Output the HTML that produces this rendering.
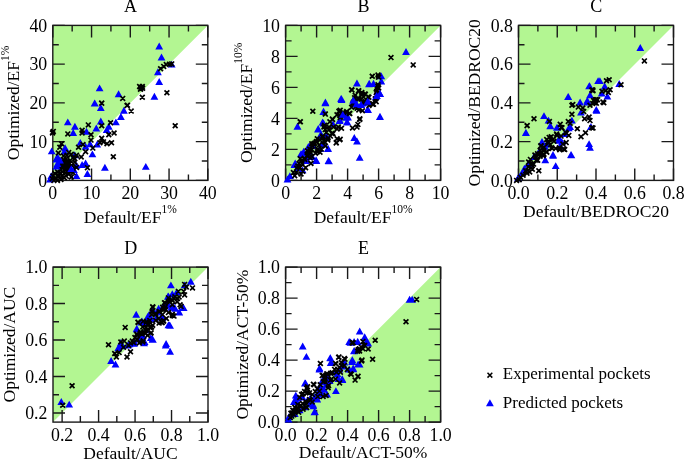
<!DOCTYPE html>
<html><head><meta charset="utf-8"><style>
html,body{margin:0;padding:0;background:#fff;}
svg{display:block;will-change:transform;}
text{font-family:"Liberation Serif", serif;font-size:17.5px;fill:#000;}
</style></head><body>
<svg width="685" height="460" viewBox="0 0 685 460">

<polygon points="52.8,180.4 52.8,25.4 207.8,25.4" fill="#b3f692"/>
<path d="M52.80,180.4v-12M52.80,25.4v12M52.8,180.40h12M207.8,180.40h-12M91.55,180.4v-12M91.55,25.4v12M52.8,141.65h12M207.8,141.65h-12M130.30,180.4v-12M130.30,25.4v12M52.8,102.90h12M207.8,102.90h-12M169.05,180.4v-12M169.05,25.4v12M52.8,64.15h12M207.8,64.15h-12M207.80,180.4v-12M207.80,25.4v12M52.8,25.40h12M207.8,25.40h-12M72.17,180.4v-6M72.17,25.4v6M52.8,161.03h6M207.8,161.03h-6M110.92,180.4v-6M110.92,25.4v6M52.8,122.28h6M207.8,122.28h-6M149.68,180.4v-6M149.68,25.4v6M52.8,83.53h6M207.8,83.53h-6M188.43,180.4v-6M188.43,25.4v6M52.8,44.78h6M207.8,44.78h-6" stroke="#1a1a1a" stroke-width="1.4" fill="none"/>
<rect x="52.8" y="25.4" width="155.0" height="155.0" stroke="#1a1a1a" stroke-width="1.4" fill="none"/>
<path d="M99.6,84.4l3.9,6.9h-7.8zM118.6,90.3l3.9,6.9h-7.8zM94.6,99.5l3.9,6.9h-7.8zM159.2,42.5l3.9,6.9h-7.8zM161.5,53.5l3.9,6.9h-7.8zM171.7,60.7l3.9,6.9h-7.8zM157.9,68.3l3.9,6.9h-7.8zM159.2,78.1l3.9,6.9h-7.8zM154.4,92.8l3.9,6.9h-7.8zM94.9,99.7l3.9,6.9h-7.8zM100.8,104.1l3.9,6.9h-7.8zM67.8,118.4l3.9,6.9h-7.8zM74.9,122.8l3.9,6.9h-7.8zM73.2,129.1l3.9,6.9h-7.8zM86.5,127.8l3.9,6.9h-7.8zM96.3,124.6l3.9,6.9h-7.8zM100.8,117.5l3.9,6.9h-7.8zM106.7,126.0l3.9,6.9h-7.8zM108.8,122.8l3.9,6.9h-7.8zM115.9,118.4l3.9,6.9h-7.8zM120.9,113.0l3.9,6.9h-7.8zM123.9,106.8l3.9,6.9h-7.8zM80.3,138.9l3.9,6.9h-7.8zM85.6,142.8l3.9,6.9h-7.8zM90.1,140.3l3.9,6.9h-7.8zM97.2,140.6l3.9,6.9h-7.8zM92.4,150.4l3.9,6.9h-7.8zM104.9,163.8l3.9,6.9h-7.8zM87.4,170.0l3.9,6.9h-7.8zM82.1,161.1l3.9,6.9h-7.8zM85.6,159.4l3.9,6.9h-7.8zM65.1,144.2l3.9,6.9h-7.8zM145.8,162.9l3.9,6.9h-7.8zM51.7,147.4l3.9,6.9h-7.8zM57.4,153.1l3.9,6.9h-7.8zM56.5,155.7l3.9,6.9h-7.8zM59.1,159.1l3.9,6.9h-7.8zM57.4,161.8l3.9,6.9h-7.8zM60.9,157.4l3.9,6.9h-7.8zM70.4,164.4l3.9,6.9h-7.8zM73.9,166.1l3.9,6.9h-7.8zM76.5,172.2l3.9,6.9h-7.8zM50.0,175.7l3.9,6.9h-7.8zM51.3,172.2l3.9,6.9h-7.8zM64.3,147.8l3.9,6.9h-7.8zM74.8,151.3l3.9,6.9h-7.8zM76.5,161.8l3.9,6.9h-7.8z" fill="#0000ff"/>
<path d="M120.3,96.0l4.8,4.8m0,-4.8l-4.8,4.8M99.3,100.7l4.8,4.8m0,-4.8l-4.8,4.8M124.6,103.2l4.8,4.8m0,-4.8l-4.8,4.8M158.2,66.3l4.8,4.8m0,-4.8l-4.8,4.8M161.3,64.0l4.8,4.8m0,-4.8l-4.8,4.8M163.9,62.2l4.8,4.8m0,-4.8l-4.8,4.8M167.0,61.8l4.8,4.8m0,-4.8l-4.8,4.8M169.3,61.5l4.8,4.8m0,-4.8l-4.8,4.8M164.5,90.3l4.8,4.8m0,-4.8l-4.8,4.8M139.9,94.8l4.8,4.8m0,-4.8l-4.8,4.8M137.2,84.1l4.8,4.8m0,-4.8l-4.8,4.8M139.9,84.1l4.8,4.8m0,-4.8l-4.8,4.8M138.4,85.9l4.8,4.8m0,-4.8l-4.8,4.8M138.1,86.8l4.8,4.8m0,-4.8l-4.8,4.8M140.2,85.9l4.8,4.8m0,-4.8l-4.8,4.8M99.3,100.8l4.8,4.8m0,-4.8l-4.8,4.8M125.1,102.9l4.8,4.8m0,-4.8l-4.8,4.8M85.9,122.5l4.8,4.8m0,-4.8l-4.8,4.8M79.7,127.9l4.8,4.8m0,-4.8l-4.8,4.8M79.7,130.6l4.8,4.8m0,-4.8l-4.8,4.8M65.4,131.5l4.8,4.8m0,-4.8l-4.8,4.8M88.6,132.3l4.8,4.8m0,-4.8l-4.8,4.8M99.3,123.4l4.8,4.8m0,-4.8l-4.8,4.8M108.2,120.4l4.8,4.8m0,-4.8l-4.8,4.8M50.3,129.7l4.8,4.8m0,-4.8l-4.8,4.8M111.7,130.6l4.8,4.8m0,-4.8l-4.8,4.8M106.4,132.3l4.8,4.8m0,-4.8l-4.8,4.8M99.3,135.9l4.8,4.8m0,-4.8l-4.8,4.8M101.1,139.5l4.8,4.8m0,-4.8l-4.8,4.8M104.6,141.3l4.8,4.8m0,-4.8l-4.8,4.8M109.1,140.4l4.8,4.8m0,-4.8l-4.8,4.8M97.5,140.4l4.8,4.8m0,-4.8l-4.8,4.8M88.6,137.7l4.8,4.8m0,-4.8l-4.8,4.8M80.6,142.1l4.8,4.8m0,-4.8l-4.8,4.8M76.1,144.8l4.8,4.8m0,-4.8l-4.8,4.8M83.2,149.3l4.8,4.8m0,-4.8l-4.8,4.8M90.4,145.7l4.8,4.8m0,-4.8l-4.8,4.8M78.8,154.6l4.8,4.8m0,-4.8l-4.8,4.8M110.9,154.3l4.8,4.8m0,-4.8l-4.8,4.8M85.0,165.3l4.8,4.8m0,-4.8l-4.8,4.8M59.2,141.3l4.8,4.8m0,-4.8l-4.8,4.8M57.4,144.8l4.8,4.8m0,-4.8l-4.8,4.8M128.8,108.7l4.8,4.8m0,-4.8l-4.8,4.8M172.8,123.4l4.8,4.8m0,-4.8l-4.8,4.8M55.9,150.6l4.8,4.8m0,-4.8l-4.8,4.8M61.1,153.7l4.8,4.8m0,-4.8l-4.8,4.8M63.7,156.3l4.8,4.8m0,-4.8l-4.8,4.8M61.9,159.8l4.8,4.8m0,-4.8l-4.8,4.8M60.2,163.3l4.8,4.8m0,-4.8l-4.8,4.8M63.7,165.0l4.8,4.8m0,-4.8l-4.8,4.8M65.4,161.5l4.8,4.8m0,-4.8l-4.8,4.8M68.0,158.0l4.8,4.8m0,-4.8l-4.8,4.8M70.6,155.4l4.8,4.8m0,-4.8l-4.8,4.8M68.9,151.9l4.8,4.8m0,-4.8l-4.8,4.8M66.3,150.2l4.8,4.8m0,-4.8l-4.8,4.8M72.4,159.8l4.8,4.8m0,-4.8l-4.8,4.8M74.1,165.0l4.8,4.8m0,-4.8l-4.8,4.8M58.5,167.6l4.8,4.8m0,-4.8l-4.8,4.8M55.0,169.3l4.8,4.8m0,-4.8l-4.8,4.8M52.4,171.1l4.8,4.8m0,-4.8l-4.8,4.8M50.6,173.7l4.8,4.8m0,-4.8l-4.8,4.8M53.3,175.4l4.8,4.8m0,-4.8l-4.8,4.8M56.7,173.7l4.8,4.8m0,-4.8l-4.8,4.8M60.2,172.8l4.8,4.8m0,-4.8l-4.8,4.8M62.8,170.2l4.8,4.8m0,-4.8l-4.8,4.8M66.3,171.9l4.8,4.8m0,-4.8l-4.8,4.8M68.9,174.6l4.8,4.8m0,-4.8l-4.8,4.8M55.0,178.0l4.8,4.8m0,-4.8l-4.8,4.8M51.5,178.0l4.8,4.8m0,-4.8l-4.8,4.8M49.8,176.3l4.8,4.8m0,-4.8l-4.8,4.8M58.5,177.2l4.8,4.8m0,-4.8l-4.8,4.8M61.9,175.4l4.8,4.8m0,-4.8l-4.8,4.8M65.4,168.5l4.8,4.8m0,-4.8l-4.8,4.8M57.6,171.1l4.8,4.8m0,-4.8l-4.8,4.8M61.1,157.2l4.8,4.8m0,-4.8l-4.8,4.8M64.6,158.9l4.8,4.8m0,-4.8l-4.8,4.8M67.2,161.5l4.8,4.8m0,-4.8l-4.8,4.8M69.8,163.3l4.8,4.8m0,-4.8l-4.8,4.8M66.3,165.0l4.8,4.8m0,-4.8l-4.8,4.8M62.8,167.6l4.8,4.8m0,-4.8l-4.8,4.8M60.2,169.3l4.8,4.8m0,-4.8l-4.8,4.8M68.0,168.5l4.8,4.8m0,-4.8l-4.8,4.8M70.6,170.2l4.8,4.8m0,-4.8l-4.8,4.8M63.7,173.7l4.8,4.8m0,-4.8l-4.8,4.8M72.4,156.3l4.8,4.8m0,-4.8l-4.8,4.8M74.1,152.8l4.8,4.8m0,-4.8l-4.8,4.8M59.3,165.0l4.8,4.8m0,-4.8l-4.8,4.8M61.9,163.3l4.8,4.8m0,-4.8l-4.8,4.8M64.6,152.8l4.8,4.8m0,-4.8l-4.8,4.8M50.9,129.0l4.8,4.8m0,-4.8l-4.8,4.8M50.1,130.6l4.8,4.8m0,-4.8l-4.8,4.8" stroke="#000" stroke-width="1.7" fill="none"/>
<path d="M57.4,160.0l3.9,6.9h-7.8zM60.0,156.5l3.9,6.9h-7.8zM56.5,162.6l3.9,6.9h-7.8zM71.3,165.2l3.9,6.9h-7.8z" fill="#0000ff"/>
<text transform="translate(52.80,199.30) scale(1,1.1)" text-anchor="middle" style="font-size:17.8px">0</text>
<text transform="translate(47.20,186.60) scale(1,1.1)" text-anchor="end" style="font-size:17.8px">0</text>
<text transform="translate(91.55,199.30) scale(1,1.1)" text-anchor="middle" style="font-size:17.8px">10</text>
<text transform="translate(47.20,147.85) scale(1,1.1)" text-anchor="end" style="font-size:17.8px">10</text>
<text transform="translate(130.30,199.30) scale(1,1.1)" text-anchor="middle" style="font-size:17.8px">20</text>
<text transform="translate(47.20,109.10) scale(1,1.1)" text-anchor="end" style="font-size:17.8px">20</text>
<text transform="translate(169.05,199.30) scale(1,1.1)" text-anchor="middle" style="font-size:17.8px">30</text>
<text transform="translate(47.20,70.35) scale(1,1.1)" text-anchor="end" style="font-size:17.8px">30</text>
<text transform="translate(207.80,199.30) scale(1,1.1)" text-anchor="middle" style="font-size:17.8px">40</text>
<text transform="translate(47.20,31.60) scale(1,1.1)" text-anchor="end" style="font-size:17.8px">40</text>
<text transform="translate(130.60,12.30) scale(1,1.0)" text-anchor="middle" style="font-size:18px">A</text>
<polygon points="285.6,180.4 285.6,25.4 440.6,25.4" fill="#b3f692"/>
<path d="M285.60,180.4v-12M285.60,25.4v12M285.6,180.40h12M440.6,180.40h-12M316.60,180.4v-12M316.60,25.4v12M285.6,149.40h12M440.6,149.40h-12M347.60,180.4v-12M347.60,25.4v12M285.6,118.40h12M440.6,118.40h-12M378.60,180.4v-12M378.60,25.4v12M285.6,87.40h12M440.6,87.40h-12M409.60,180.4v-12M409.60,25.4v12M285.6,56.40h12M440.6,56.40h-12M440.60,180.4v-12M440.60,25.4v12M285.6,25.40h12M440.6,25.40h-12M301.10,180.4v-6M301.10,25.4v6M285.6,164.90h6M440.6,164.90h-6M332.10,180.4v-6M332.10,25.4v6M285.6,133.90h6M440.6,133.90h-6M363.10,180.4v-6M363.10,25.4v6M285.6,102.90h6M440.6,102.90h-6M394.10,180.4v-6M394.10,25.4v6M285.6,71.90h6M440.6,71.90h-6M425.10,180.4v-6M425.10,25.4v6M285.6,40.90h6M440.6,40.90h-6" stroke="#1a1a1a" stroke-width="1.4" fill="none"/>
<rect x="285.6" y="25.4" width="155.0" height="155.0" stroke="#1a1a1a" stroke-width="1.4" fill="none"/>
<path d="M406.0,48.0l3.9,6.9h-7.8zM369.0,80.4l3.9,6.9h-7.8zM373.5,80.1l3.9,6.9h-7.8zM380.8,72.3l3.9,6.9h-7.8zM381.3,77.7l3.9,6.9h-7.8zM379.8,89.5l3.9,6.9h-7.8zM375.9,93.1l3.9,6.9h-7.8zM367.2,98.5l3.9,6.9h-7.8zM325.4,99.3l3.9,6.9h-7.8zM323.6,107.8l3.9,6.9h-7.8zM297.4,122.8l3.9,6.9h-7.8zM318.2,125.0l3.9,6.9h-7.8zM323.6,119.6l3.9,6.9h-7.8zM320.0,132.2l3.9,6.9h-7.8zM339.8,116.3l3.9,6.9h-7.8zM347.1,118.1l3.9,6.9h-7.8zM345.3,110.5l3.9,6.9h-7.8zM354.3,134.0l3.9,6.9h-7.8zM357.0,137.6l3.9,6.9h-7.8zM359.7,153.8l3.9,6.9h-7.8zM329.0,157.4l3.9,6.9h-7.8zM316.4,157.1l3.9,6.9h-7.8zM328.1,144.8l3.9,6.9h-7.8zM303.8,148.4l3.9,6.9h-7.8zM294.7,161.1l3.9,6.9h-7.8zM308.3,143.0l3.9,6.9h-7.8zM301.0,150.2l3.9,6.9h-7.8zM287.5,175.5l3.9,6.9h-7.8zM306.5,155.6l3.9,6.9h-7.8zM321.8,140.3l3.9,6.9h-7.8zM353.4,98.8l3.9,6.9h-7.8zM362.4,99.7l3.9,6.9h-7.8zM341.6,96.1l3.9,6.9h-7.8zM357.0,79.5l3.9,6.9h-7.8zM341.1,94.9l3.9,6.9h-7.8zM325.4,98.5l3.9,6.9h-7.8zM354.3,94.9l3.9,6.9h-7.8zM355.2,99.4l3.9,6.9h-7.8zM379.8,113.2l3.9,6.9h-7.8zM368.1,106.0l3.9,6.9h-7.8zM363.6,98.8l3.9,6.9h-7.8zM367.2,97.9l3.9,6.9h-7.8zM356.9,79.6l3.9,6.9h-7.8zM369.2,79.8l3.9,6.9h-7.8zM373.5,79.8l3.9,6.9h-7.8zM381.3,72.4l3.9,6.9h-7.8zM381.3,77.6l3.9,6.9h-7.8zM380.0,90.0l3.9,6.9h-7.8zM376.7,92.0l3.9,6.9h-7.8zM341.5,95.2l3.9,6.9h-7.8zM368.3,97.8l3.9,6.9h-7.8zM353.3,96.5l3.9,6.9h-7.8zM356.5,100.4l3.9,6.9h-7.8zM367.6,105.7l3.9,6.9h-7.8zM380.0,112.8l3.9,6.9h-7.8zM342.8,110.9l3.9,6.9h-7.8zM348.0,113.5l3.9,6.9h-7.8zM361.1,101.1l3.9,6.9h-7.8zM355.9,93.9l3.9,6.9h-7.8zM323.3,108.1l3.9,6.9h-7.8zM297.6,122.8l3.9,6.9h-7.8zM322.6,118.5l3.9,6.9h-7.8zM318.0,125.7l3.9,6.9h-7.8zM321.3,130.9l3.9,6.9h-7.8zM333.0,120.4l3.9,6.9h-7.8zM339.6,117.2l3.9,6.9h-7.8zM346.1,113.9l3.9,6.9h-7.8zM347.4,118.5l3.9,6.9h-7.8zM303.7,147.8l3.9,6.9h-7.8zM301.7,151.1l3.9,6.9h-7.8zM295.2,159.6l3.9,6.9h-7.8zM316.1,156.3l3.9,6.9h-7.8zM328.5,157.0l3.9,6.9h-7.8zM327.8,145.2l3.9,6.9h-7.8zM309.6,142.6l3.9,6.9h-7.8zM312.2,153.1l3.9,6.9h-7.8zM305.7,155.7l3.9,6.9h-7.8zM320.0,145.2l3.9,6.9h-7.8zM326.5,132.2l3.9,6.9h-7.8zM303.7,149.1l3.9,6.9h-7.8zM306.0,157.2l3.9,6.9h-7.8zM298.0,164.1l3.9,6.9h-7.8zM294.5,160.7l3.9,6.9h-7.8zM313.0,142.2l3.9,6.9h-7.8zM319.9,133.0l3.9,6.9h-7.8zM323.3,139.9l3.9,6.9h-7.8zM309.5,151.4l3.9,6.9h-7.8zM289.9,172.2l3.9,6.9h-7.8zM302.6,166.4l3.9,6.9h-7.8z" fill="#0000ff"/>
<path d="M388.6,55.2l4.8,4.8m0,-4.8l-4.8,4.8M410.8,62.5l4.8,4.8m0,-4.8l-4.8,4.8M369.9,73.8l4.8,4.8m0,-4.8l-4.8,4.8M375.6,72.6l4.8,4.8m0,-4.8l-4.8,4.8M376.0,74.7l4.8,4.8m0,-4.8l-4.8,4.8M375.6,83.8l4.8,4.8m0,-4.8l-4.8,4.8M374.7,87.4l4.8,4.8m0,-4.8l-4.8,4.8M373.8,90.1l4.8,4.8m0,-4.8l-4.8,4.8M372.9,96.4l4.8,4.8m0,-4.8l-4.8,4.8M363.0,91.9l4.8,4.8m0,-4.8l-4.8,4.8M361.2,94.6l4.8,4.8m0,-4.8l-4.8,4.8M359.4,90.1l4.8,4.8m0,-4.8l-4.8,4.8M365.7,94.6l4.8,4.8m0,-4.8l-4.8,4.8M362.1,100.0l4.8,4.8m0,-4.8l-4.8,4.8M370.2,101.8l4.8,4.8m0,-4.8l-4.8,4.8M310.4,108.8l4.8,4.8m0,-4.8l-4.8,4.8M297.7,119.3l4.8,4.8m0,-4.8l-4.8,4.8M323.0,111.7l4.8,4.8m0,-4.8l-4.8,4.8M330.2,117.1l4.8,4.8m0,-4.8l-4.8,4.8M336.5,108.8l4.8,4.8m0,-4.8l-4.8,4.8M338.3,113.8l4.8,4.8m0,-4.8l-4.8,4.8M343.8,110.2l4.8,4.8m0,-4.8l-4.8,4.8M347.4,111.1l4.8,4.8m0,-4.8l-4.8,4.8M322.1,122.9l4.8,4.8m0,-4.8l-4.8,4.8M326.6,124.7l4.8,4.8m0,-4.8l-4.8,4.8M331.1,124.7l4.8,4.8m0,-4.8l-4.8,4.8M334.7,126.5l4.8,4.8m0,-4.8l-4.8,4.8M329.3,131.0l4.8,4.8m0,-4.8l-4.8,4.8M323.9,130.1l4.8,4.8m0,-4.8l-4.8,4.8M320.3,133.7l4.8,4.8m0,-4.8l-4.8,4.8M325.7,135.5l4.8,4.8m0,-4.8l-4.8,4.8M334.7,136.4l4.8,4.8m0,-4.8l-4.8,4.8M337.4,137.3l4.8,4.8m0,-4.8l-4.8,4.8M333.8,140.5l4.8,4.8m0,-4.8l-4.8,4.8M322.1,139.1l4.8,4.8m0,-4.8l-4.8,4.8M316.7,142.7l4.8,4.8m0,-4.8l-4.8,4.8M312.2,140.9l4.8,4.8m0,-4.8l-4.8,4.8M309.5,147.2l4.8,4.8m0,-4.8l-4.8,4.8M305.9,150.8l4.8,4.8m0,-4.8l-4.8,4.8M313.1,150.8l4.8,4.8m0,-4.8l-4.8,4.8M317.6,149.9l4.8,4.8m0,-4.8l-4.8,4.8M307.7,155.3l4.8,4.8m0,-4.8l-4.8,4.8M308.6,160.8l4.8,4.8m0,-4.8l-4.8,4.8M302.3,157.1l4.8,4.8m0,-4.8l-4.8,4.8M299.5,160.8l4.8,4.8m0,-4.8l-4.8,4.8M296.8,164.4l4.8,4.8m0,-4.8l-4.8,4.8M300.4,168.9l4.8,4.8m0,-4.8l-4.8,4.8M294.1,169.8l4.8,4.8m0,-4.8l-4.8,4.8M292.3,173.4l4.8,4.8m0,-4.8l-4.8,4.8M298.6,171.6l4.8,4.8m0,-4.8l-4.8,4.8M303.2,165.3l4.8,4.8m0,-4.8l-4.8,4.8M350.1,125.6l4.8,4.8m0,-4.8l-4.8,4.8M354.6,124.7l4.8,4.8m0,-4.8l-4.8,4.8M355.5,122.0l4.8,4.8m0,-4.8l-4.8,4.8M357.3,117.1l4.8,4.8m0,-4.8l-4.8,4.8M352.8,104.8l4.8,4.8m0,-4.8l-4.8,4.8M356.4,107.5l4.8,4.8m0,-4.8l-4.8,4.8M360.0,108.4l4.8,4.8m0,-4.8l-4.8,4.8M349.2,104.8l4.8,4.8m0,-4.8l-4.8,4.8M327.5,119.3l4.8,4.8m0,-4.8l-4.8,4.8M314.9,136.4l4.8,4.8m0,-4.8l-4.8,4.8M323.0,143.6l4.8,4.8m0,-4.8l-4.8,4.8M349.2,87.4l4.8,4.8m0,-4.8l-4.8,4.8M356.4,88.3l4.8,4.8m0,-4.8l-4.8,4.8M360.0,91.9l4.8,4.8m0,-4.8l-4.8,4.8M352.8,92.8l4.8,4.8m0,-4.8l-4.8,4.8M356.4,96.4l4.8,4.8m0,-4.8l-4.8,4.8M360.9,100.0l4.8,4.8m0,-4.8l-4.8,4.8M351.0,100.0l4.8,4.8m0,-4.8l-4.8,4.8M366.6,103.0l4.8,4.8m0,-4.8l-4.8,4.8M370.2,101.2l4.8,4.8m0,-4.8l-4.8,4.8M373.8,99.4l4.8,4.8m0,-4.8l-4.8,4.8M363.0,99.4l4.8,4.8m0,-4.8l-4.8,4.8M369.8,73.9l4.8,4.8m0,-4.8l-4.8,4.8M375.6,72.6l4.8,4.8m0,-4.8l-4.8,4.8M376.3,74.6l4.8,4.8m0,-4.8l-4.8,4.8M375.6,82.4l4.8,4.8m0,-4.8l-4.8,4.8M376.3,85.6l4.8,4.8m0,-4.8l-4.8,4.8M374.3,88.9l4.8,4.8m0,-4.8l-4.8,4.8M373.0,96.7l4.8,4.8m0,-4.8l-4.8,4.8M371.1,101.9l4.8,4.8m0,-4.8l-4.8,4.8M349.6,87.6l4.8,4.8m0,-4.8l-4.8,4.8M356.1,88.3l4.8,4.8m0,-4.8l-4.8,4.8M358.7,92.2l4.8,4.8m0,-4.8l-4.8,4.8M362.6,91.5l4.8,4.8m0,-4.8l-4.8,4.8M366.5,94.8l4.8,4.8m0,-4.8l-4.8,4.8M352.2,95.4l4.8,4.8m0,-4.8l-4.8,4.8M356.1,96.7l4.8,4.8m0,-4.8l-4.8,4.8M358.7,96.7l4.8,4.8m0,-4.8l-4.8,4.8M361.3,99.3l4.8,4.8m0,-4.8l-4.8,4.8M350.9,100.6l4.8,4.8m0,-4.8l-4.8,4.8M354.8,105.9l4.8,4.8m0,-4.8l-4.8,4.8M356.7,107.2l4.8,4.8m0,-4.8l-4.8,4.8M337.8,107.8l4.8,4.8m0,-4.8l-4.8,4.8M344.3,109.1l4.8,4.8m0,-4.8l-4.8,4.8M346.9,111.1l4.8,4.8m0,-4.8l-4.8,4.8M334.6,112.4l4.8,4.8m0,-4.8l-4.8,4.8M337.8,115.0l4.8,4.8m0,-4.8l-4.8,4.8M357.4,116.3l4.8,4.8m0,-4.8l-4.8,4.8M310.4,108.9l4.8,4.8m0,-4.8l-4.8,4.8M322.8,111.5l4.8,4.8m0,-4.8l-4.8,4.8M298.0,119.3l4.8,4.8m0,-4.8l-4.8,4.8M330.0,116.7l4.8,4.8m0,-4.8l-4.8,4.8M337.2,112.8l4.8,4.8m0,-4.8l-4.8,4.8M341.1,110.2l4.8,4.8m0,-4.8l-4.8,4.8M335.9,124.6l4.8,4.8m0,-4.8l-4.8,4.8M339.1,125.9l4.8,4.8m0,-4.8l-4.8,4.8M337.8,136.9l4.8,4.8m0,-4.8l-4.8,4.8M333.9,140.2l4.8,4.8m0,-4.8l-4.8,4.8M321.5,124.6l4.8,4.8m0,-4.8l-4.8,4.8M322.8,127.2l4.8,4.8m0,-4.8l-4.8,4.8M326.7,127.2l4.8,4.8m0,-4.8l-4.8,4.8M330.6,131.1l4.8,4.8m0,-4.8l-4.8,4.8M320.2,135.0l4.8,4.8m0,-4.8l-4.8,4.8M317.6,137.6l4.8,4.8m0,-4.8l-4.8,4.8M313.7,139.6l4.8,4.8m0,-4.8l-4.8,4.8M311.1,141.5l4.8,4.8m0,-4.8l-4.8,4.8M309.8,143.5l4.8,4.8m0,-4.8l-4.8,4.8M307.2,146.7l4.8,4.8m0,-4.8l-4.8,4.8M305.9,149.3l4.8,4.8m0,-4.8l-4.8,4.8M308.5,150.6l4.8,4.8m0,-4.8l-4.8,4.8M304.6,153.3l4.8,4.8m0,-4.8l-4.8,4.8M301.9,155.9l4.8,4.8m0,-4.8l-4.8,4.8M299.3,158.5l4.8,4.8m0,-4.8l-4.8,4.8M296.7,161.1l4.8,4.8m0,-4.8l-4.8,4.8M295.4,163.7l4.8,4.8m0,-4.8l-4.8,4.8M298.0,165.0l4.8,4.8m0,-4.8l-4.8,4.8M308.5,161.1l4.8,4.8m0,-4.8l-4.8,4.8M315.0,149.3l4.8,4.8m0,-4.8l-4.8,4.8M318.9,146.7l4.8,4.8m0,-4.8l-4.8,4.8M322.8,140.2l4.8,4.8m0,-4.8l-4.8,4.8M325.4,137.6l4.8,4.8m0,-4.8l-4.8,4.8M328.0,133.7l4.8,4.8m0,-4.8l-4.8,4.8M309.4,141.4l4.8,4.8m0,-4.8l-4.8,4.8M314.0,139.1l4.8,4.8m0,-4.8l-4.8,4.8M304.8,148.3l4.8,4.8m0,-4.8l-4.8,4.8M297.9,156.4l4.8,4.8m0,-4.8l-4.8,4.8M294.4,165.6l4.8,4.8m0,-4.8l-4.8,4.8M291.0,170.2l4.8,4.8m0,-4.8l-4.8,4.8M315.2,147.2l4.8,4.8m0,-4.8l-4.8,4.8M309.4,154.1l4.8,4.8m0,-4.8l-4.8,4.8" stroke="#000" stroke-width="1.7" fill="none"/>
<path d="M353.3,96.5l3.9,6.9h-7.8zM356.5,100.4l3.9,6.9h-7.8zM367.6,97.8l3.9,6.9h-7.8zM376.7,92.0l3.9,6.9h-7.8zM380.0,90.0l3.9,6.9h-7.8zM361.1,101.1l3.9,6.9h-7.8zM342.8,110.9l3.9,6.9h-7.8z" fill="#0000ff"/>
<text transform="translate(285.60,199.30) scale(1,1.1)" text-anchor="middle" style="font-size:17.8px">0</text>
<text transform="translate(280.00,186.60) scale(1,1.1)" text-anchor="end" style="font-size:17.8px">0</text>
<text transform="translate(316.60,199.30) scale(1,1.1)" text-anchor="middle" style="font-size:17.8px">2</text>
<text transform="translate(280.00,155.60) scale(1,1.1)" text-anchor="end" style="font-size:17.8px">2</text>
<text transform="translate(347.60,199.30) scale(1,1.1)" text-anchor="middle" style="font-size:17.8px">4</text>
<text transform="translate(280.00,124.60) scale(1,1.1)" text-anchor="end" style="font-size:17.8px">4</text>
<text transform="translate(378.60,199.30) scale(1,1.1)" text-anchor="middle" style="font-size:17.8px">6</text>
<text transform="translate(280.00,93.60) scale(1,1.1)" text-anchor="end" style="font-size:17.8px">6</text>
<text transform="translate(409.60,199.30) scale(1,1.1)" text-anchor="middle" style="font-size:17.8px">8</text>
<text transform="translate(280.00,62.60) scale(1,1.1)" text-anchor="end" style="font-size:17.8px">8</text>
<text transform="translate(440.60,199.30) scale(1,1.1)" text-anchor="middle" style="font-size:17.8px">10</text>
<text transform="translate(280.00,31.60) scale(1,1.1)" text-anchor="end" style="font-size:17.8px">10</text>
<text transform="translate(363.40,12.30) scale(1,1.0)" text-anchor="middle" style="font-size:18px">B</text>
<polygon points="518.5,180.4 518.5,25.4 673.5,25.4" fill="#b3f692"/>
<path d="M518.50,180.4v-12M518.50,25.4v12M518.5,180.40h12M673.5,180.40h-12M557.25,180.4v-12M557.25,25.4v12M518.5,141.65h12M673.5,141.65h-12M596.00,180.4v-12M596.00,25.4v12M518.5,102.90h12M673.5,102.90h-12M634.75,180.4v-12M634.75,25.4v12M518.5,64.15h12M673.5,64.15h-12M673.50,180.4v-12M673.50,25.4v12M518.5,25.40h12M673.5,25.40h-12M537.88,180.4v-6M537.88,25.4v6M518.5,161.03h6M673.5,161.03h-6M576.62,180.4v-6M576.62,25.4v6M518.5,122.28h6M673.5,122.28h-6M615.38,180.4v-6M615.38,25.4v6M518.5,83.53h6M673.5,83.53h-6M654.12,180.4v-6M654.12,25.4v6M518.5,44.78h6M673.5,44.78h-6" stroke="#1a1a1a" stroke-width="1.4" fill="none"/>
<rect x="518.5" y="25.4" width="155.0" height="155.0" stroke="#1a1a1a" stroke-width="1.4" fill="none"/>
<path d="M640.3,44.0l3.9,6.9h-7.8zM599.9,77.2l3.9,6.9h-7.8zM619.2,80.1l3.9,6.9h-7.8zM604.7,82.6l3.9,6.9h-7.8zM601.7,89.5l3.9,6.9h-7.8zM607.4,92.7l3.9,6.9h-7.8zM589.1,82.4l3.9,6.9h-7.8zM568.0,93.2l3.9,6.9h-7.8zM580.1,98.7l3.9,6.9h-7.8zM587.3,96.9l3.9,6.9h-7.8zM590.0,91.4l3.9,6.9h-7.8zM596.3,105.9l3.9,6.9h-7.8zM544.0,112.2l3.9,6.9h-7.8zM548.5,116.7l3.9,6.9h-7.8zM550.3,122.1l3.9,6.9h-7.8zM557.1,123.9l3.9,6.9h-7.8zM570.1,123.0l3.9,6.9h-7.8zM571.9,116.7l3.9,6.9h-7.8zM525.9,128.8l3.9,6.9h-7.8zM559.3,134.7l3.9,6.9h-7.8zM564.7,130.2l3.9,6.9h-7.8zM542.2,138.4l3.9,6.9h-7.8zM544.9,142.9l3.9,6.9h-7.8zM589.1,140.2l3.9,6.9h-7.8zM590.0,143.8l3.9,6.9h-7.8zM571.0,151.0l3.9,6.9h-7.8zM553.0,151.0l3.9,6.9h-7.8zM534.0,152.8l3.9,6.9h-7.8zM562.0,138.4l3.9,6.9h-7.8zM581.0,108.6l3.9,6.9h-7.8zM590.9,123.0l3.9,6.9h-7.8zM526.0,129.2l3.9,6.9h-7.8zM550.3,122.4l3.9,6.9h-7.8zM557.0,123.7l3.9,6.9h-7.8zM568.8,124.4l3.9,6.9h-7.8zM542.0,138.1l3.9,6.9h-7.8zM546.6,140.7l3.9,6.9h-7.8zM559.0,136.8l3.9,6.9h-7.8zM560.3,142.6l3.9,6.9h-7.8zM553.1,151.8l3.9,6.9h-7.8zM571.4,151.4l3.9,6.9h-7.8zM534.9,153.1l3.9,6.9h-7.8zM555.7,162.2l3.9,6.9h-7.8zM545.3,156.3l3.9,6.9h-7.8zM528.3,160.2l3.9,6.9h-7.8zM524.4,164.8l3.9,6.9h-7.8zM521.8,169.4l3.9,6.9h-7.8zM517.9,174.6l3.9,6.9h-7.8zM539.4,147.2l3.9,6.9h-7.8zM596.6,106.9l3.9,6.9h-7.8zM568.3,93.1l3.9,6.9h-7.8zM589.6,82.3l3.9,6.9h-7.8zM590.0,91.3l3.9,6.9h-7.8zM598.1,77.2l3.9,6.9h-7.8zM580.1,98.5l3.9,6.9h-7.8zM587.3,98.5l3.9,6.9h-7.8z" fill="#0000ff"/>
<path d="M642.0,58.5l4.8,4.8m0,-4.8l-4.8,4.8M604.1,78.3l4.8,4.8m0,-4.8l-4.8,4.8M606.8,77.4l4.8,4.8m0,-4.8l-4.8,4.8M618.6,82.3l4.8,4.8m0,-4.8l-4.8,4.8M599.6,88.8l4.8,4.8m0,-4.8l-4.8,4.8M603.2,88.3l4.8,4.8m0,-4.8l-4.8,4.8M607.7,87.4l4.8,4.8m0,-4.8l-4.8,4.8M605.9,90.1l4.8,4.8m0,-4.8l-4.8,4.8M593.3,98.2l4.8,4.8m0,-4.8l-4.8,4.8M600.5,99.6l4.8,4.8m0,-4.8l-4.8,4.8M590.6,88.3l4.8,4.8m0,-4.8l-4.8,4.8M595.1,97.3l4.8,4.8m0,-4.8l-4.8,4.8M590.3,87.5l4.8,4.8m0,-4.8l-4.8,4.8M569.5,102.9l4.8,4.8m0,-4.8l-4.8,4.8M575.9,104.7l4.8,4.8m0,-4.8l-4.8,4.8M580.4,105.6l4.8,4.8m0,-4.8l-4.8,4.8M581.3,109.2l4.8,4.8m0,-4.8l-4.8,4.8M593.0,97.4l4.8,4.8m0,-4.8l-4.8,4.8M590.3,101.1l4.8,4.8m0,-4.8l-4.8,4.8M587.6,102.9l4.8,4.8m0,-4.8l-4.8,4.8M569.5,111.9l4.8,4.8m0,-4.8l-4.8,4.8M531.6,116.4l4.8,4.8m0,-4.8l-4.8,4.8M524.8,123.1l4.8,4.8m0,-4.8l-4.8,4.8M547.0,119.1l4.8,4.8m0,-4.8l-4.8,4.8M557.8,121.8l4.8,4.8m0,-4.8l-4.8,4.8M559.6,125.4l4.8,4.8m0,-4.8l-4.8,4.8M565.9,119.1l4.8,4.8m0,-4.8l-4.8,4.8M567.7,120.9l4.8,4.8m0,-4.8l-4.8,4.8M564.1,130.8l4.8,4.8m0,-4.8l-4.8,4.8M574.9,126.3l4.8,4.8m0,-4.8l-4.8,4.8M583.1,130.3l4.8,4.8m0,-4.8l-4.8,4.8M578.6,134.4l4.8,4.8m0,-4.8l-4.8,4.8M586.7,114.6l4.8,4.8m0,-4.8l-4.8,4.8M587.6,118.2l4.8,4.8m0,-4.8l-4.8,4.8M582.2,116.4l4.8,4.8m0,-4.8l-4.8,4.8M589.4,125.4l4.8,4.8m0,-4.8l-4.8,4.8M554.2,131.7l4.8,4.8m0,-4.8l-4.8,4.8M548.8,134.4l4.8,4.8m0,-4.8l-4.8,4.8M544.3,137.1l4.8,4.8m0,-4.8l-4.8,4.8M546.1,140.8l4.8,4.8m0,-4.8l-4.8,4.8M551.5,138.9l4.8,4.8m0,-4.8l-4.8,4.8M538.9,143.5l4.8,4.8m0,-4.8l-4.8,4.8M540.7,148.0l4.8,4.8m0,-4.8l-4.8,4.8M544.3,149.8l4.8,4.8m0,-4.8l-4.8,4.8M537.1,151.6l4.8,4.8m0,-4.8l-4.8,4.8M533.4,154.3l4.8,4.8m0,-4.8l-4.8,4.8M540.7,153.4l4.8,4.8m0,-4.8l-4.8,4.8M560.5,141.7l4.8,4.8m0,-4.8l-4.8,4.8M556.9,145.3l4.8,4.8m0,-4.8l-4.8,4.8M562.3,147.1l4.8,4.8m0,-4.8l-4.8,4.8M549.7,146.2l4.8,4.8m0,-4.8l-4.8,4.8M535.3,157.9l4.8,4.8m0,-4.8l-4.8,4.8M526.2,159.7l4.8,4.8m0,-4.8l-4.8,4.8M528.0,157.0l4.8,4.8m0,-4.8l-4.8,4.8M524.6,123.3l4.8,4.8m0,-4.8l-4.8,4.8M558.6,125.2l4.8,4.8m0,-4.8l-4.8,4.8M563.1,129.8l4.8,4.8m0,-4.8l-4.8,4.8M566.4,133.0l4.8,4.8m0,-4.8l-4.8,4.8M546.8,135.0l4.8,4.8m0,-4.8l-4.8,4.8M550.7,136.9l4.8,4.8m0,-4.8l-4.8,4.8M545.5,139.6l4.8,4.8m0,-4.8l-4.8,4.8M548.1,142.2l4.8,4.8m0,-4.8l-4.8,4.8M541.6,144.8l4.8,4.8m0,-4.8l-4.8,4.8M538.3,143.5l4.8,4.8m0,-4.8l-4.8,4.8M537.7,148.0l4.8,4.8m0,-4.8l-4.8,4.8M544.2,149.3l4.8,4.8m0,-4.8l-4.8,4.8M541.6,151.9l4.8,4.8m0,-4.8l-4.8,4.8M535.1,151.3l4.8,4.8m0,-4.8l-4.8,4.8M532.5,152.6l4.8,4.8m0,-4.8l-4.8,4.8M537.7,153.9l4.8,4.8m0,-4.8l-4.8,4.8M533.8,157.8l4.8,4.8m0,-4.8l-4.8,4.8M529.9,161.7l4.8,4.8m0,-4.8l-4.8,4.8M525.9,164.3l4.8,4.8m0,-4.8l-4.8,4.8M528.6,165.6l4.8,4.8m0,-4.8l-4.8,4.8M531.2,161.7l4.8,4.8m0,-4.8l-4.8,4.8M536.4,168.3l4.8,4.8m0,-4.8l-4.8,4.8M523.3,168.3l4.8,4.8m0,-4.8l-4.8,4.8M524.6,170.9l4.8,4.8m0,-4.8l-4.8,4.8M520.7,172.8l4.8,4.8m0,-4.8l-4.8,4.8M518.1,174.8l4.8,4.8m0,-4.8l-4.8,4.8M516.8,177.4l4.8,4.8m0,-4.8l-4.8,4.8M514.2,178.0l4.8,4.8m0,-4.8l-4.8,4.8M527.3,169.6l4.8,4.8m0,-4.8l-4.8,4.8M529.9,166.9l4.8,4.8m0,-4.8l-4.8,4.8M549.4,145.4l4.8,4.8m0,-4.8l-4.8,4.8M553.3,146.1l4.8,4.8m0,-4.8l-4.8,4.8M557.3,147.4l4.8,4.8m0,-4.8l-4.8,4.8M561.2,146.7l4.8,4.8m0,-4.8l-4.8,4.8M563.8,140.2l4.8,4.8m0,-4.8l-4.8,4.8M554.6,133.0l4.8,4.8m0,-4.8l-4.8,4.8M558.6,133.7l4.8,4.8m0,-4.8l-4.8,4.8M601.4,100.3l4.8,4.8m0,-4.8l-4.8,4.8M592.4,100.3l4.8,4.8m0,-4.8l-4.8,4.8M590.6,125.6l4.8,4.8m0,-4.8l-4.8,4.8M589.4,87.7l4.8,4.8m0,-4.8l-4.8,4.8M591.2,98.2l4.8,4.8m0,-4.8l-4.8,4.8M593.9,97.3l4.8,4.8m0,-4.8l-4.8,4.8M570.4,102.2l4.8,4.8m0,-4.8l-4.8,4.8M593.9,100.9l4.8,4.8m0,-4.8l-4.8,4.8" stroke="#000" stroke-width="1.7" fill="none"/>
<text transform="translate(518.50,199.30) scale(1,1.1)" text-anchor="middle" style="font-size:17.8px">0.0</text>
<text transform="translate(512.90,186.60) scale(1,1.1)" text-anchor="end" style="font-size:17.8px">0.0</text>
<text transform="translate(557.25,199.30) scale(1,1.1)" text-anchor="middle" style="font-size:17.8px">0.2</text>
<text transform="translate(512.90,147.85) scale(1,1.1)" text-anchor="end" style="font-size:17.8px">0.2</text>
<text transform="translate(596.00,199.30) scale(1,1.1)" text-anchor="middle" style="font-size:17.8px">0.4</text>
<text transform="translate(512.90,109.10) scale(1,1.1)" text-anchor="end" style="font-size:17.8px">0.4</text>
<text transform="translate(634.75,199.30) scale(1,1.1)" text-anchor="middle" style="font-size:17.8px">0.6</text>
<text transform="translate(512.90,70.35) scale(1,1.1)" text-anchor="end" style="font-size:17.8px">0.6</text>
<text transform="translate(673.50,199.30) scale(1,1.1)" text-anchor="middle" style="font-size:17.8px">0.8</text>
<text transform="translate(512.90,31.60) scale(1,1.1)" text-anchor="end" style="font-size:17.8px">0.8</text>
<text transform="translate(596.30,12.30) scale(1,1.0)" text-anchor="middle" style="font-size:18px">C</text>
<polygon points="53.0,422.1 53.0,267.1 208.0,267.1" fill="#b3f692"/>
<path d="M62.12,422.1v-12M62.12,267.1v12M53.0,412.98h12M208.0,412.98h-12M98.59,422.1v-12M98.59,267.1v12M53.0,376.51h12M208.0,376.51h-12M135.06,422.1v-12M135.06,267.1v12M53.0,340.04h12M208.0,340.04h-12M171.53,422.1v-12M171.53,267.1v12M53.0,303.57h12M208.0,303.57h-12M208.00,422.1v-12M208.00,267.1v12M53.0,267.10h12M208.0,267.10h-12M80.35,422.1v-6M80.35,267.1v6M53.0,394.75h6M208.0,394.75h-6M116.82,422.1v-6M116.82,267.1v6M53.0,358.28h6M208.0,358.28h-6M153.29,422.1v-6M153.29,267.1v6M53.0,321.81h6M208.0,321.81h-6M189.76,422.1v-6M189.76,267.1v6M53.0,285.34h6M208.0,285.34h-6" stroke="#1a1a1a" stroke-width="1.4" fill="none"/>
<rect x="53.0" y="267.1" width="155.0" height="155.0" stroke="#1a1a1a" stroke-width="1.4" fill="none"/>
<path d="M170.9,281.4l3.9,6.9h-7.8zM190.8,277.8l3.9,6.9h-7.8zM184.6,281.4l3.9,6.9h-7.8zM167.9,292.8l3.9,6.9h-7.8zM172.3,290.2l3.9,6.9h-7.8zM176.7,288.4l3.9,6.9h-7.8zM136.2,310.8l3.9,6.9h-7.8zM147.6,313.0l3.9,6.9h-7.8zM152.5,306.0l3.9,6.9h-7.8zM158.2,306.0l3.9,6.9h-7.8zM183.7,304.2l3.9,6.9h-7.8zM179.3,308.6l3.9,6.9h-7.8zM170.1,321.9l3.9,6.9h-7.8zM152.9,335.9l3.9,6.9h-7.8zM166.1,340.0l3.9,6.9h-7.8zM137.0,325.4l3.9,6.9h-7.8zM140.6,331.5l3.9,6.9h-7.8zM168.7,301.6l3.9,6.9h-7.8zM174.0,303.4l3.9,6.9h-7.8zM162.6,313.9l3.9,6.9h-7.8zM144.1,319.2l3.9,6.9h-7.8zM111.1,357.0l3.9,6.9h-7.8zM115.5,360.5l3.9,6.9h-7.8zM118.2,344.3l3.9,6.9h-7.8zM120.8,339.0l3.9,6.9h-7.8zM136.7,324.9l3.9,6.9h-7.8zM141.1,318.7l3.9,6.9h-7.8zM144.6,338.1l3.9,6.9h-7.8zM152.5,335.5l3.9,6.9h-7.8zM165.7,341.6l3.9,6.9h-7.8zM168.4,321.4l3.9,6.9h-7.8zM170.1,347.8l3.9,6.9h-7.8zM127.9,341.6l3.9,6.9h-7.8zM134.0,339.9l3.9,6.9h-7.8zM61.3,398.0l3.9,6.9h-7.8zM69.2,400.7l3.9,6.9h-7.8zM137.3,325.7l3.9,6.9h-7.8zM142.2,337.4l3.9,6.9h-7.8zM144.1,339.4l3.9,6.9h-7.8zM121.6,342.3l3.9,6.9h-7.8zM129.5,340.3l3.9,6.9h-7.8zM134.4,338.4l3.9,6.9h-7.8zM139.2,335.5l3.9,6.9h-7.8zM168.4,292.6l3.9,6.9h-7.8zM158.6,304.8l3.9,6.9h-7.8zM157.6,308.7l3.9,6.9h-7.8zM148.8,311.6l3.9,6.9h-7.8zM146.8,315.6l3.9,6.9h-7.8zM142.0,317.5l3.9,6.9h-7.8zM151.7,315.6l3.9,6.9h-7.8zM161.5,313.6l3.9,6.9h-7.8zM169.4,321.4l3.9,6.9h-7.8zM179.1,308.7l3.9,6.9h-7.8zM183.1,303.8l3.9,6.9h-7.8zM171.3,303.8l3.9,6.9h-7.8zM175.2,304.8l3.9,6.9h-7.8zM150.8,334.2l3.9,6.9h-7.8zM142.9,332.2l3.9,6.9h-7.8zM145.9,326.3l3.9,6.9h-7.8zM163.5,301.9l3.9,6.9h-7.8zM167.4,299.9l3.9,6.9h-7.8zM156.6,313.6l3.9,6.9h-7.8z" fill="#0000ff"/>
<path d="M182.2,282.0l4.8,4.8m0,-4.8l-4.8,4.8M183.9,284.6l4.8,4.8m0,-4.8l-4.8,4.8M190.1,285.5l4.8,4.8m0,-4.8l-4.8,4.8M181.3,289.0l4.8,4.8m0,-4.8l-4.8,4.8M182.2,292.5l4.8,4.8m0,-4.8l-4.8,4.8M176.0,289.0l4.8,4.8m0,-4.8l-4.8,4.8M172.5,294.3l4.8,4.8m0,-4.8l-4.8,4.8M175.1,296.1l4.8,4.8m0,-4.8l-4.8,4.8M169.9,297.8l4.8,4.8m0,-4.8l-4.8,4.8M167.2,299.6l4.8,4.8m0,-4.8l-4.8,4.8M162.8,300.5l4.8,4.8m0,-4.8l-4.8,4.8M160.2,304.9l4.8,4.8m0,-4.8l-4.8,4.8M150.5,304.9l4.8,4.8m0,-4.8l-4.8,4.8M149.6,309.3l4.8,4.8m0,-4.8l-4.8,4.8M153.1,311.0l4.8,4.8m0,-4.8l-4.8,4.8M156.7,309.3l4.8,4.8m0,-4.8l-4.8,4.8M162.8,306.6l4.8,4.8m0,-4.8l-4.8,4.8M178.7,304.0l4.8,4.8m0,-4.8l-4.8,4.8M169.9,311.9l4.8,4.8m0,-4.8l-4.8,4.8M171.6,313.7l4.8,4.8m0,-4.8l-4.8,4.8M161.1,318.9l4.8,4.8m0,-4.8l-4.8,4.8M156.7,320.7l4.8,4.8m0,-4.8l-4.8,4.8M135.5,319.8l4.8,4.8m0,-4.8l-4.8,4.8M140.8,318.9l4.8,4.8m0,-4.8l-4.8,4.8M145.2,322.5l4.8,4.8m0,-4.8l-4.8,4.8M148.7,325.1l4.8,4.8m0,-4.8l-4.8,4.8M143.4,327.8l4.8,4.8m0,-4.8l-4.8,4.8M138.2,329.5l4.8,4.8m0,-4.8l-4.8,4.8M148.7,330.4l4.8,4.8m0,-4.8l-4.8,4.8M134.6,336.6l4.8,4.8m0,-4.8l-4.8,4.8M131.1,340.1l4.8,4.8m0,-4.8l-4.8,4.8M140.8,338.3l4.8,4.8m0,-4.8l-4.8,4.8M145.2,333.0l4.8,4.8m0,-4.8l-4.8,4.8M122.8,325.0l4.8,4.8m0,-4.8l-4.8,4.8M106.1,342.3l4.8,4.8m0,-4.8l-4.8,4.8M112.3,351.1l4.8,4.8m0,-4.8l-4.8,4.8M114.0,354.6l4.8,4.8m0,-4.8l-4.8,4.8M116.7,350.2l4.8,4.8m0,-4.8l-4.8,4.8M118.4,339.6l4.8,4.8m0,-4.8l-4.8,4.8M121.9,338.7l4.8,4.8m0,-4.8l-4.8,4.8M124.6,354.6l4.8,4.8m0,-4.8l-4.8,4.8M128.1,349.3l4.8,4.8m0,-4.8l-4.8,4.8M126.3,343.1l4.8,4.8m0,-4.8l-4.8,4.8M129.9,338.7l4.8,4.8m0,-4.8l-4.8,4.8M132.5,335.2l4.8,4.8m0,-4.8l-4.8,4.8M134.3,331.7l4.8,4.8m0,-4.8l-4.8,4.8M136.0,320.2l4.8,4.8m0,-4.8l-4.8,4.8M140.4,324.6l4.8,4.8m0,-4.8l-4.8,4.8M142.2,329.9l4.8,4.8m0,-4.8l-4.8,4.8M145.7,322.9l4.8,4.8m0,-4.8l-4.8,4.8M149.2,324.6l4.8,4.8m0,-4.8l-4.8,4.8M148.4,330.8l4.8,4.8m0,-4.8l-4.8,4.8M136.9,340.5l4.8,4.8m0,-4.8l-4.8,4.8M140.4,339.6l4.8,4.8m0,-4.8l-4.8,4.8M143.9,319.4l4.8,4.8m0,-4.8l-4.8,4.8M159.8,320.2l4.8,4.8m0,-4.8l-4.8,4.8M121.1,344.9l4.8,4.8m0,-4.8l-4.8,4.8M135.1,337.0l4.8,4.8m0,-4.8l-4.8,4.8M128.1,340.5l4.8,4.8m0,-4.8l-4.8,4.8M69.7,383.4l4.8,4.8m0,-4.8l-4.8,4.8M60.3,402.8l4.8,4.8m0,-4.8l-4.8,4.8M137.8,331.1l4.8,4.8m0,-4.8l-4.8,4.8M134.9,333.0l4.8,4.8m0,-4.8l-4.8,4.8M142.7,331.1l4.8,4.8m0,-4.8l-4.8,4.8M145.7,327.2l4.8,4.8m0,-4.8l-4.8,4.8M150.3,304.3l4.8,4.8m0,-4.8l-4.8,4.8M150.3,308.3l4.8,4.8m0,-4.8l-4.8,4.8M149.3,312.2l4.8,4.8m0,-4.8l-4.8,4.8M153.3,312.2l4.8,4.8m0,-4.8l-4.8,4.8M157.2,309.2l4.8,4.8m0,-4.8l-4.8,4.8M161.1,307.3l4.8,4.8m0,-4.8l-4.8,4.8M163.0,304.3l4.8,4.8m0,-4.8l-4.8,4.8M162.1,300.4l4.8,4.8m0,-4.8l-4.8,4.8M167.0,298.5l4.8,4.8m0,-4.8l-4.8,4.8M171.8,296.5l4.8,4.8m0,-4.8l-4.8,4.8M176.7,294.6l4.8,4.8m0,-4.8l-4.8,4.8M169.9,302.4l4.8,4.8m0,-4.8l-4.8,4.8M174.8,299.4l4.8,4.8m0,-4.8l-4.8,4.8M177.7,302.4l4.8,4.8m0,-4.8l-4.8,4.8M169.9,313.1l4.8,4.8m0,-4.8l-4.8,4.8M164.0,316.1l4.8,4.8m0,-4.8l-4.8,4.8M159.1,320.0l4.8,4.8m0,-4.8l-4.8,4.8M161.1,318.0l4.8,4.8m0,-4.8l-4.8,4.8M147.4,318.0l4.8,4.8m0,-4.8l-4.8,4.8M145.4,322.0l4.8,4.8m0,-4.8l-4.8,4.8M143.5,324.9l4.8,4.8m0,-4.8l-4.8,4.8M147.4,324.9l4.8,4.8m0,-4.8l-4.8,4.8M150.3,322.9l4.8,4.8m0,-4.8l-4.8,4.8M141.5,329.8l4.8,4.8m0,-4.8l-4.8,4.8M139.6,331.7l4.8,4.8m0,-4.8l-4.8,4.8M148.4,330.8l4.8,4.8m0,-4.8l-4.8,4.8M156.2,316.1l4.8,4.8m0,-4.8l-4.8,4.8M153.3,318.0l4.8,4.8m0,-4.8l-4.8,4.8M166.0,310.2l4.8,4.8m0,-4.8l-4.8,4.8M160.1,312.2l4.8,4.8m0,-4.8l-4.8,4.8M166.0,295.5l4.8,4.8m0,-4.8l-4.8,4.8" stroke="#000" stroke-width="1.7" fill="none"/>
<text transform="translate(62.12,441.00) scale(1,1.1)" text-anchor="middle" style="font-size:17.8px">0.2</text>
<text transform="translate(47.40,419.18) scale(1,1.1)" text-anchor="end" style="font-size:17.8px">0.2</text>
<text transform="translate(98.59,441.00) scale(1,1.1)" text-anchor="middle" style="font-size:17.8px">0.4</text>
<text transform="translate(47.40,382.71) scale(1,1.1)" text-anchor="end" style="font-size:17.8px">0.4</text>
<text transform="translate(135.06,441.00) scale(1,1.1)" text-anchor="middle" style="font-size:17.8px">0.6</text>
<text transform="translate(47.40,346.24) scale(1,1.1)" text-anchor="end" style="font-size:17.8px">0.6</text>
<text transform="translate(171.53,441.00) scale(1,1.1)" text-anchor="middle" style="font-size:17.8px">0.8</text>
<text transform="translate(47.40,309.77) scale(1,1.1)" text-anchor="end" style="font-size:17.8px">0.8</text>
<text transform="translate(208.00,441.00) scale(1,1.1)" text-anchor="middle" style="font-size:17.8px">1.0</text>
<text transform="translate(47.40,273.30) scale(1,1.1)" text-anchor="end" style="font-size:17.8px">1.0</text>
<text transform="translate(130.80,254.00) scale(1,1.0)" text-anchor="middle" style="font-size:18px">D</text>
<polygon points="285.6,422.1 440.6,267.1 440.6,422.1" fill="#b3f692"/>
<path d="M285.60,422.1v-12M285.60,267.1v12M285.6,422.10h12M440.6,422.10h-12M316.60,422.1v-12M316.60,267.1v12M285.6,391.10h12M440.6,391.10h-12M347.60,422.1v-12M347.60,267.1v12M285.6,360.10h12M440.6,360.10h-12M378.60,422.1v-12M378.60,267.1v12M285.6,329.10h12M440.6,329.10h-12M409.60,422.1v-12M409.60,267.1v12M285.6,298.10h12M440.6,298.10h-12M440.60,422.1v-12M440.60,267.1v12M285.6,267.10h12M440.6,267.10h-12M301.10,422.1v-6M301.10,267.1v6M285.6,406.60h6M440.6,406.60h-6M332.10,422.1v-6M332.10,267.1v6M285.6,375.60h6M440.6,375.60h-6M363.10,422.1v-6M363.10,267.1v6M285.6,344.60h6M440.6,344.60h-6M394.10,422.1v-6M394.10,267.1v6M285.6,313.60h6M440.6,313.60h-6M425.10,422.1v-6M425.10,267.1v6M285.6,282.60h6M440.6,282.60h-6" stroke="#1a1a1a" stroke-width="1.4" fill="none"/>
<rect x="285.6" y="267.1" width="155.0" height="155.0" stroke="#1a1a1a" stroke-width="1.4" fill="none"/>
<path d="M409.6,295.8l3.9,6.9h-7.8zM412.2,295.8l3.9,6.9h-7.8zM359.7,327.5l3.9,6.9h-7.8zM364.7,333.3l3.9,6.9h-7.8zM350.6,338.6l3.9,6.9h-7.8zM357.6,338.1l3.9,6.9h-7.8zM366.4,337.7l3.9,6.9h-7.8zM368.2,339.5l3.9,6.9h-7.8zM354.1,347.4l3.9,6.9h-7.8zM352.3,356.2l3.9,6.9h-7.8zM302.7,342.5l3.9,6.9h-7.8zM306.4,352.9l3.9,6.9h-7.8zM319.5,364.4l3.9,6.9h-7.8zM330.4,354.3l3.9,6.9h-7.8zM331.3,358.9l3.9,6.9h-7.8zM352.3,358.0l3.9,6.9h-7.8zM353.2,365.3l3.9,6.9h-7.8zM359.6,360.7l3.9,6.9h-7.8zM354.2,347.0l3.9,6.9h-7.8zM350.5,338.8l3.9,6.9h-7.8zM357.8,337.9l3.9,6.9h-7.8zM342.3,375.3l3.9,6.9h-7.8zM335.9,387.2l3.9,6.9h-7.8zM304.9,379.5l3.9,6.9h-7.8zM295.8,391.7l3.9,6.9h-7.8zM297.6,394.5l3.9,6.9h-7.8zM293.9,398.1l3.9,6.9h-7.8zM314.9,408.2l3.9,6.9h-7.8zM313.1,400.9l3.9,6.9h-7.8zM288.5,415.5l3.9,6.9h-7.8zM325.0,378.1l3.9,6.9h-7.8zM321.3,383.5l3.9,6.9h-7.8zM326.8,372.6l3.9,6.9h-7.8zM319.5,390.8l3.9,6.9h-7.8zM305.5,379.4l3.9,6.9h-7.8zM296.7,393.6l3.9,6.9h-7.8zM295.8,396.5l3.9,6.9h-7.8zM314.4,408.3l3.9,6.9h-7.8zM313.4,402.4l3.9,6.9h-7.8zM309.5,400.5l3.9,6.9h-7.8zM317.3,395.6l3.9,6.9h-7.8zM322.2,390.7l3.9,6.9h-7.8zM324.1,385.8l3.9,6.9h-7.8zM326.1,380.9l3.9,6.9h-7.8zM322.2,377.0l3.9,6.9h-7.8zM327.1,374.0l3.9,6.9h-7.8zM319.2,383.8l3.9,6.9h-7.8zM314.4,393.6l3.9,6.9h-7.8zM307.5,396.5l3.9,6.9h-7.8zM304.6,403.4l3.9,6.9h-7.8zM299.7,406.3l3.9,6.9h-7.8zM294.8,410.2l3.9,6.9h-7.8zM288.9,413.2l3.9,6.9h-7.8zM302.6,393.6l3.9,6.9h-7.8zM327.1,390.7l3.9,6.9h-7.8zM318.3,388.7l3.9,6.9h-7.8zM310.4,394.6l3.9,6.9h-7.8zM330.2,354.2l3.9,6.9h-7.8zM330.7,359.1l3.9,6.9h-7.8zM319.4,365.5l3.9,6.9h-7.8zM352.2,357.6l3.9,6.9h-7.8zM358.1,360.6l3.9,6.9h-7.8zM349.2,365.5l3.9,6.9h-7.8zM353.2,364.5l3.9,6.9h-7.8zM342.4,376.2l3.9,6.9h-7.8zM338.5,375.2l3.9,6.9h-7.8zM344.4,358.6l3.9,6.9h-7.8zM339.5,365.5l3.9,6.9h-7.8zM334.6,368.4l3.9,6.9h-7.8zM326.7,373.3l3.9,6.9h-7.8zM322.8,376.2l3.9,6.9h-7.8zM329.7,377.2l3.9,6.9h-7.8zM337.5,370.3l3.9,6.9h-7.8zM342.4,362.5l3.9,6.9h-7.8zM354.1,338.1l3.9,6.9h-7.8zM349.2,338.1l3.9,6.9h-7.8zM354.1,346.9l3.9,6.9h-7.8z" fill="#0000ff"/>
<path d="M414.2,297.0l4.8,4.8m0,-4.8l-4.8,4.8M403.6,319.3l4.8,4.8m0,-4.8l-4.8,4.8M372.8,337.8l4.8,4.8m0,-4.8l-4.8,4.8M349.9,340.1l4.8,4.8m0,-4.8l-4.8,4.8M360.5,339.2l4.8,4.8m0,-4.8l-4.8,4.8M358.7,344.5l4.8,4.8m0,-4.8l-4.8,4.8M360.5,346.3l4.8,4.8m0,-4.8l-4.8,4.8M365.8,346.6l4.8,4.8m0,-4.8l-4.8,4.8M355.2,348.9l4.8,4.8m0,-4.8l-4.8,4.8M342.0,356.0l4.8,4.8m0,-4.8l-4.8,4.8M359.6,357.7l4.8,4.8m0,-4.8l-4.8,4.8M370.2,356.8l4.8,4.8m0,-4.8l-4.8,4.8M362.3,343.1l4.8,4.8m0,-4.8l-4.8,4.8M357.0,346.3l4.8,4.8m0,-4.8l-4.8,4.8M318.0,361.0l4.8,4.8m0,-4.8l-4.8,4.8M336.2,354.9l4.8,4.8m0,-4.8l-4.8,4.8M342.6,356.8l4.8,4.8m0,-4.8l-4.8,4.8M333.5,361.3l4.8,4.8m0,-4.8l-4.8,4.8M339.0,363.1l4.8,4.8m0,-4.8l-4.8,4.8M335.3,366.8l4.8,4.8m0,-4.8l-4.8,4.8M329.9,370.4l4.8,4.8m0,-4.8l-4.8,4.8M324.4,371.4l4.8,4.8m0,-4.8l-4.8,4.8M319.8,373.2l4.8,4.8m0,-4.8l-4.8,4.8M328.0,377.7l4.8,4.8m0,-4.8l-4.8,4.8M322.6,376.8l4.8,4.8m0,-4.8l-4.8,4.8M311.6,382.3l4.8,4.8m0,-4.8l-4.8,4.8M304.3,385.9l4.8,4.8m0,-4.8l-4.8,4.8M300.7,391.4l4.8,4.8m0,-4.8l-4.8,4.8M307.1,390.5l4.8,4.8m0,-4.8l-4.8,4.8M317.1,388.7l4.8,4.8m0,-4.8l-4.8,4.8M315.3,394.2l4.8,4.8m0,-4.8l-4.8,4.8M308.0,397.8l4.8,4.8m0,-4.8l-4.8,4.8M303.4,401.5l4.8,4.8m0,-4.8l-4.8,4.8M298.8,403.3l4.8,4.8m0,-4.8l-4.8,4.8M295.2,405.1l4.8,4.8m0,-4.8l-4.8,4.8M293.4,408.8l4.8,4.8m0,-4.8l-4.8,4.8M289.7,410.6l4.8,4.8m0,-4.8l-4.8,4.8M300.7,406.9l4.8,4.8m0,-4.8l-4.8,4.8M304.3,405.1l4.8,4.8m0,-4.8l-4.8,4.8M309.8,399.6l4.8,4.8m0,-4.8l-4.8,4.8M337.2,380.5l4.8,4.8m0,-4.8l-4.8,4.8M348.1,371.4l4.8,4.8m0,-4.8l-4.8,4.8M352.7,377.7l4.8,4.8m0,-4.8l-4.8,4.8M355.4,374.1l4.8,4.8m0,-4.8l-4.8,4.8M357.2,348.5l4.8,4.8m0,-4.8l-4.8,4.8M350.8,340.3l4.8,4.8m0,-4.8l-4.8,4.8M359.1,358.6l4.8,4.8m0,-4.8l-4.8,4.8M320.7,394.2l4.8,4.8m0,-4.8l-4.8,4.8M326.2,383.2l4.8,4.8m0,-4.8l-4.8,4.8M291.5,412.4l4.8,4.8m0,-4.8l-4.8,4.8M287.9,415.1l4.8,4.8m0,-4.8l-4.8,4.8M311.0,381.9l4.8,4.8m0,-4.8l-4.8,4.8M305.1,384.3l4.8,4.8m0,-4.8l-4.8,4.8M302.2,389.2l4.8,4.8m0,-4.8l-4.8,4.8M299.2,392.2l4.8,4.8m0,-4.8l-4.8,4.8M297.3,395.1l4.8,4.8m0,-4.8l-4.8,4.8M305.1,390.2l4.8,4.8m0,-4.8l-4.8,4.8M295.3,402.0l4.8,4.8m0,-4.8l-4.8,4.8M292.4,404.9l4.8,4.8m0,-4.8l-4.8,4.8M290.4,407.8l4.8,4.8m0,-4.8l-4.8,4.8M288.5,410.8l4.8,4.8m0,-4.8l-4.8,4.8M294.3,406.8l4.8,4.8m0,-4.8l-4.8,4.8M298.3,403.9l4.8,4.8m0,-4.8l-4.8,4.8M300.2,401.0l4.8,4.8m0,-4.8l-4.8,4.8M303.1,399.0l4.8,4.8m0,-4.8l-4.8,4.8M307.1,397.1l4.8,4.8m0,-4.8l-4.8,4.8M310.0,392.2l4.8,4.8m0,-4.8l-4.8,4.8M312.9,389.2l4.8,4.8m0,-4.8l-4.8,4.8M314.9,386.3l4.8,4.8m0,-4.8l-4.8,4.8M317.8,382.4l4.8,4.8m0,-4.8l-4.8,4.8M320.8,379.4l4.8,4.8m0,-4.8l-4.8,4.8M322.7,376.5l4.8,4.8m0,-4.8l-4.8,4.8M323.7,393.1l4.8,4.8m0,-4.8l-4.8,4.8M325.7,385.3l4.8,4.8m0,-4.8l-4.8,4.8M289.4,413.7l4.8,4.8m0,-4.8l-4.8,4.8M292.4,409.8l4.8,4.8m0,-4.8l-4.8,4.8M296.3,409.8l4.8,4.8m0,-4.8l-4.8,4.8M318.0,361.1l4.8,4.8m0,-4.8l-4.8,4.8M336.6,354.7l4.8,4.8m0,-4.8l-4.8,4.8M342.0,356.2l4.8,4.8m0,-4.8l-4.8,4.8M333.1,361.1l4.8,4.8m0,-4.8l-4.8,4.8M339.0,360.1l4.8,4.8m0,-4.8l-4.8,4.8M337.1,365.0l4.8,4.8m0,-4.8l-4.8,4.8M342.0,363.0l4.8,4.8m0,-4.8l-4.8,4.8M332.2,367.0l4.8,4.8m0,-4.8l-4.8,4.8M328.3,370.9l4.8,4.8m0,-4.8l-4.8,4.8M325.3,371.8l4.8,4.8m0,-4.8l-4.8,4.8M320.4,372.8l4.8,4.8m0,-4.8l-4.8,4.8M334.1,369.9l4.8,4.8m0,-4.8l-4.8,4.8M338.0,369.9l4.8,4.8m0,-4.8l-4.8,4.8M348.8,371.8l4.8,4.8m0,-4.8l-4.8,4.8M352.7,377.7l4.8,4.8m0,-4.8l-4.8,4.8M355.7,373.8l4.8,4.8m0,-4.8l-4.8,4.8M333.1,376.7l4.8,4.8m0,-4.8l-4.8,4.8M329.2,376.7l4.8,4.8m0,-4.8l-4.8,4.8M322.4,378.7l4.8,4.8m0,-4.8l-4.8,4.8M349.8,340.5l4.8,4.8m0,-4.8l-4.8,4.8M355.7,347.4l4.8,4.8m0,-4.8l-4.8,4.8M344.9,367.0l4.8,4.8m0,-4.8l-4.8,4.8" stroke="#000" stroke-width="1.7" fill="none"/>
<text transform="translate(285.60,441.00) scale(1,1.1)" text-anchor="middle" style="font-size:17.8px">0.0</text>
<text transform="translate(280.00,428.30) scale(1,1.1)" text-anchor="end" style="font-size:17.8px">0.0</text>
<text transform="translate(316.60,441.00) scale(1,1.1)" text-anchor="middle" style="font-size:17.8px">0.2</text>
<text transform="translate(280.00,397.30) scale(1,1.1)" text-anchor="end" style="font-size:17.8px">0.2</text>
<text transform="translate(347.60,441.00) scale(1,1.1)" text-anchor="middle" style="font-size:17.8px">0.4</text>
<text transform="translate(280.00,366.30) scale(1,1.1)" text-anchor="end" style="font-size:17.8px">0.4</text>
<text transform="translate(378.60,441.00) scale(1,1.1)" text-anchor="middle" style="font-size:17.8px">0.6</text>
<text transform="translate(280.00,335.30) scale(1,1.1)" text-anchor="end" style="font-size:17.8px">0.6</text>
<text transform="translate(409.60,441.00) scale(1,1.1)" text-anchor="middle" style="font-size:17.8px">0.8</text>
<text transform="translate(280.00,304.30) scale(1,1.1)" text-anchor="end" style="font-size:17.8px">0.8</text>
<text transform="translate(440.60,441.00) scale(1,1.1)" text-anchor="middle" style="font-size:17.8px">1.0</text>
<text transform="translate(280.00,273.30) scale(1,1.1)" text-anchor="end" style="font-size:17.8px">1.0</text>
<text transform="translate(363.40,254.00) scale(1,1.0)" text-anchor="middle" style="font-size:18px">E</text>
<text transform="translate(130.30,223.40) scale(1,1.0)" text-anchor="middle">Default/EF<tspan style="font-size:11.5px" dy="-10.3">1%</tspan></text>
<text transform="translate(19.30,102.90) rotate(-90) scale(1,1.0)" text-anchor="middle">Optimized/EF<tspan style="font-size:11.5px" dy="-10.3">1%</tspan></text>
<text transform="translate(363.10,223.40) scale(1,1.0)" text-anchor="middle">Default/EF<tspan style="font-size:11.5px" dy="-10.3">10%</tspan></text>
<text transform="translate(252.20,102.90) rotate(-90) scale(1,1.0)" text-anchor="middle">Optimized/EF<tspan style="font-size:11.5px" dy="-10.3">10%</tspan></text>
<text transform="translate(596.00,216.90) scale(1,1.0)" text-anchor="middle">Default/BEDROC20</text>
<text transform="translate(480.00,102.90) rotate(-90) scale(1,1.0)" text-anchor="middle">Optimized/BEDROC20</text>
<text transform="translate(130.50,458.60) scale(1,1.0)" text-anchor="middle">Default/AUC</text>
<text transform="translate(15.20,344.60) rotate(-90) scale(1,1.0)" text-anchor="middle">Optimized/AUC</text>
<text transform="translate(363.10,458.10) scale(1,1.0)" text-anchor="middle">Default/ACT-50%</text>
<text transform="translate(248.00,344.60) rotate(-90) scale(1,1.0)" text-anchor="middle">Optimized/ACT-50%</text>
<path d="M487.5,372.8l4.8,4.8m0,-4.8l-4.8,4.8" stroke="#000" stroke-width="1.5" fill="none"/>
<path d="M489.9,399.3l3.9,6.9h-7.8z" fill="#0000ff"/>
<text transform="translate(502.8,379.4) scale(1,1.0)" style="font-size:17px">Experimental pockets</text>
<text transform="translate(502.8,408.4) scale(1,1.0)" style="font-size:17px">Predicted pockets</text>
</svg>
</body></html>
